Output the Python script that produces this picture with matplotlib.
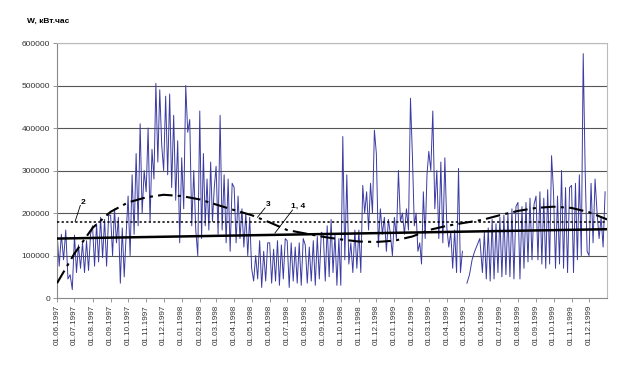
import calendar
import datetime as dt
import numpy as np
import matplotlib
matplotlib.use('Agg')
import matplotlib.pyplot as plt
import matplotlib.dates as mdates

nan = np.nan

# daily energy, thousand kWh, read off the picture as half-week peaks/troughs
# one inner list per month
w_1997 = [
    [155, 75, 150, 90, 160, 45, 55, 20],              # Jun
    [148, 60, 125, 70, 130, 60, 135, 65, 150],        # Jul
    [170, 75, 175, 85, 190, 95, 185, 75, 195],        # Aug
    [195, 100, 210, 130, 190, 35, 165, 50, 150],      # Sep
    [240, 100, 290, 150, 340, 170, 410, 200, 300],    # Oct
    [250, 400, 180, 350, 280, 505, 320, 490, 360],    # Nov
    [300, 475, 290, 480, 260, 430, 230, 370, 130],    # Dec
]
w_1998 = [
    [330, 210, 500, 390, 420, 170, 300, 160, 100],    # Jan
    [440, 140, 340, 170, 280, 160, 320, 180, 260],    # Feb
    [310, 150, 430, 160, 290, 130, 280, 110, 270],    # Mar
    [260, 130, 240, 140, 210, 120, 200, 100, 190],    # Apr
    [70, 40, 100, 45, 135, 25, 110, 40, 130],         # May
    [130, 35, 115, 40, 135, 30, 125, 45, 140],        # Jun
    [135, 25, 130, 40, 120, 35, 130, 30, 140],        # Jul
    [125, 35, 120, 40, 135, 30, 145, 45, 155],        # Aug
    [150, 40, 170, 50, 185, 60, 150, 30, 140],        # Sep
    [30, 380, 90, 290, 80, 130, 60, 160, 70],         # Oct
    [160, 60, 265, 200, 250, 160, 270, 200, 395],     # Nov
    [340, 120, 210, 150, 190, 110, 185, 150, 100],    # Dec
]
w_1999 = [
    [190, 140, 300, 180, 200, 150, 210, 160, 470],    # Jan
    [330, 170, 200, 110, 130, 80, 250, 140, 290],     # Feb
    [345, 300, 440, 210, 300, 140, 320, 130, 330],    # Mar
    [165, 120, 155, 70, 160, 60, 305, 60, 110],       # Apr
    [nan, 35, 55, 90, 110, 125, 140],                 # May
    [60, 155, 45, 165, 40, 185, 45, 175, 60],         # Jun
    [190, 50, 195, 55, 200, 50, 210, 45, 215],        # Jul
    [225, 45, 215, 70, 225, 85, 235, 90, 220],        # Aug
    [240, 90, 250, 80, 235, 70, 255, 80, 335],        # Sep
    [250, 70, 240, 80, 300, 70, 260, 60, 260],        # Oct
    [265, 60, 270, 90, 290, 100, 575, 300, 110],      # Nov
    [100, 270, 130, 280, 200, 140, 190, 120, 250],    # Dec
]

# curve 3 (seasonal fit), thousand kWh at the first of each month, Jun 1997 .. Jan 2000
fit3 = [35, 105, 165, 203, 225, 237, 243, 240, 232, 220, 207, 195, 178, 160,
        152, 144, 138, 133, 132, 135, 145, 160, 170, 177, 184, 195, 205, 212,
        215, 212, 202, 185]
level2 = 180          # line 2, mean level
trend14 = [140, 162]  # lines 1, 4, start and end

months = [(1997, m) for m in range(6, 13)] + [(1998, m) for m in range(1, 13)] + \
         [(1999, m) for m in range(1, 13)]
monthly = w_1997 + w_1998 + w_1999

xs, ys = [], []
for (yr, mo), vals in zip(months, monthly):
    ndays = calendar.monthrange(yr, mo)[1]
    start = mdates.date2num(dt.date(yr, mo, 1))
    for i, v in enumerate(vals):
        xs.append(start + i * ndays / len(vals))
        ys.append(v * 1000)

month_starts = [dt.date(y, m, 1) for y, m in months] + [dt.date(2000, 1, 1)]
x0, x1 = month_starts[0], month_starts[-1]

plt.rcParams['font.family'] = ['Liberation Sans', 'DejaVu Sans']
fig = plt.figure(figsize=(6.23, 3.74), dpi=100)
ax = fig.add_axes([0.0915, 0.203, 0.883, 0.682])

for v in range(100000, 600001, 100000):
    ax.axhline(v, color='#555555', lw=0.8, zorder=1)

ax.plot(xs, ys, color='#3b3ba3', lw=0.7, zorder=2)
ax.plot([x0, x1], [level2 * 1000] * 2, color='black', lw=1.1,
        linestyle=(0, (1.5, 1.5)), zorder=3)
ax.plot(month_starts, [v * 1000 for v in fit3], color='black', lw=1.5,
        linestyle=(0, (7, 2.5, 1.5, 2.5)), zorder=3)
ax.plot([x0, x1], [v * 1000 for v in trend14], color='black', lw=1.8, zorder=3)

def d(y, m, day):
    return mdates.date2num(dt.date(y, m, day))

# curve labels with leader lines
ax.text(d(1997, 7, 15), 226000, '2', fontsize=6, fontweight='bold', ha='center', va='center')
ax.plot([d(1997, 7, 11), d(1997, 7, 2)], [218000, 180000], color='black', lw=0.6)
ax.text(d(1998, 5, 30), 220000, '3', fontsize=6, fontweight='bold', ha='center', va='center')
ax.plot([d(1998, 5, 24), d(1998, 5, 11)], [212000, 190000], color='black', lw=0.6)
ax.text(d(1998, 7, 19), 215000, '1, 4', fontsize=6, fontweight='bold', ha='center', va='center')
ax.plot([d(1998, 7, 10), d(1998, 6, 10)], [207000, 153000], color='black', lw=0.6)

ax.set_xlim(x0, x1)
ax.set_ylim(0, 600000)
ax.set_yticks(range(0, 600001, 100000))
ax.set_yticklabels([str(v) for v in range(0, 600001, 100000)], fontsize=6, color='#333333')
ax.set_xticks(month_starts[:-1])
ax.set_xticklabels([m.strftime('%d.%m.%Y') for m in month_starts[:-1]],
                   rotation=90, fontsize=5.8, color='#333333')
ax.tick_params(axis='both', length=3, width=0.6, color='#888888', pad=2)

for side in ['left', 'bottom']:
    ax.spines[side].set_color('#888888')
    ax.spines[side].set_linewidth(0.8)
for side in ['top', 'right']:
    ax.spines[side].set_color('#bbbbbb')
    ax.spines[side].set_linewidth(0.8)

fig.text(27 / 623, 1 - 21 / 374, 'W, кВт.час', fontsize=6, fontweight='bold',
         va='center', ha='left')

fig.savefig('out.png', dpi=100)
